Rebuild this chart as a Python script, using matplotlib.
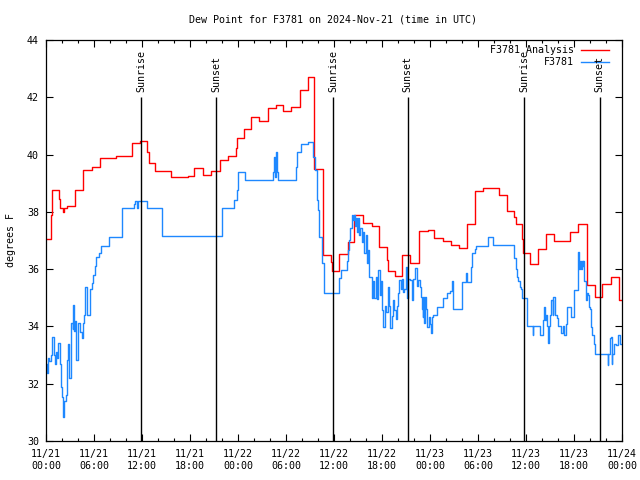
import numpy as np
import pandas as pd
import matplotlib
matplotlib.use("Agg")
import matplotlib.pyplot as plt
import matplotlib.dates as mdates

plt.rcParams["font.family"] = ["DejaVu Sans Mono"]
plt.rcParams["font.size"] = 7.2

START = pd.Timestamp("2024-11-21 00:00")
END = START + pd.Timedelta(hours=72)

# hours since 11/21 00:00 UTC, step values (deg F)
analysis_hours = [0.0, 0.66, 0.79, 1.58, 1.71, 2.12, 2.3, 2.58, 3.67, 4.66, 5.71, 6.71, 6.8,
                  8.71, 10.71, 11.75, 12.66, 12.83, 13.58, 13.66, 15.58, 17.7, 18.5, 19.6,
                  20.6, 21.8, 22.71, 23.71, 23.9, 24.7, 25.6, 26.6, 27.7, 28.7, 29.6, 30.6,
                  31.7, 32.8, 33.54, 34.6, 35.6, 35.7, 36.66, 37.7, 38.5, 39.66, 40.7, 41.66,
                  42.58, 42.7, 43.62, 44.54, 45.5, 46.6, 47.8, 48.5, 49.66, 50.6, 51.6, 52.6,
                  53.6, 54.6, 56.6, 57.6, 58.54, 58.71, 59.5, 59.66, 60.5, 61.5, 62.46, 63.54,
                  65.5, 66.5, 67.6, 68.6, 69.5, 70.6, 71.6, 72.0]
analysis_dewpt = [37.04, 37.89, 38.75, 38.45, 38.12, 38.0, 38.12, 38.2, 38.75, 39.45, 39.56,
                  39.73, 39.87, 39.95, 40.39, 40.48, 40.1, 39.71, 39.56, 39.42, 39.2, 39.25,
                  39.52, 39.28, 39.43, 39.8, 39.95, 40.22, 40.57, 40.91, 41.3, 41.16, 41.61,
                  41.73, 41.52, 41.65, 42.24, 42.71, 39.49, 36.5, 36.24, 35.93, 36.53, 36.96,
                  37.89, 37.6, 37.51, 36.79, 36.32, 35.95, 35.76, 36.49, 36.23, 37.32, 37.36,
                  37.08, 36.98, 36.84, 36.74, 37.56, 38.72, 38.82, 38.59, 38.02, 37.81, 37.58,
                  37.04, 36.55, 36.18, 36.69, 37.23, 36.97, 37.29, 37.57, 35.45, 35.02, 35.47,
                  35.74, 34.92, 34.92]

station_hours = [0.0, 0.09, 0.25, 0.41, 0.59, 0.71, 1.0, 1.12, 1.25, 1.41, 1.54, 1.75, 1.88,
                 2.04, 2.16, 2.29, 2.5, 2.59, 2.75, 2.84, 3.09, 3.16, 3.34, 3.41, 3.54, 3.66,
                 3.75, 4.04, 4.25, 4.46, 4.59, 4.75, 4.91, 5.09, 5.5, 5.75, 5.91, 6.09, 6.25,
                 6.59, 6.84, 7.9, 9.46, 11.04, 11.16, 11.41, 11.54, 12.59, 14.54, 21.96, 22.04,
                 23.54, 23.84, 24.04, 24.88, 28.34, 28.5, 28.62, 28.75, 28.88, 29.04, 31.21,
                 31.34, 31.88, 32.79, 33.41, 33.66, 33.91, 34.04, 34.16, 34.46, 34.75, 34.81,
                 36.66, 36.84, 37.66, 37.75, 37.88, 38.0, 38.21, 38.29, 38.41, 38.5, 38.62,
                 38.75, 38.88, 39.04, 39.16, 39.29, 39.46, 39.66, 39.79, 39.96, 40.12, 40.29,
                 40.41, 40.71, 40.91, 41.04, 41.21, 41.34, 41.46, 41.54, 41.71, 41.84, 41.96,
                 42.16, 42.37, 42.5, 42.71, 42.91, 43.0, 43.21, 43.41, 43.54, 43.71, 43.84,
                 44.04, 44.16, 44.37, 44.46, 44.66, 44.79, 45.0, 45.12, 45.29, 45.5, 45.71,
                 45.91, 46.12, 46.34, 46.54, 46.75, 46.88, 46.96, 47.09, 47.16, 47.29, 47.41,
                 47.54, 47.66, 47.84, 48.0, 48.12, 48.25, 48.41, 48.84, 49.59, 50.09, 50.5,
                 50.71, 50.84, 50.91, 51.96, 52.5, 52.66, 53.09, 53.21, 53.62, 53.75, 55.29,
                 55.84, 58.54, 58.71, 58.84, 59.04, 59.25, 59.38, 59.54, 60.09, 60.84, 60.88,
                 61.75, 62.16, 62.29, 62.38, 62.5, 62.66, 62.79, 62.88, 63.0, 63.12, 63.34,
                 63.41, 63.62, 63.84, 64.04, 64.38, 64.59, 64.79, 64.96, 65.09, 65.62, 66.04,
                 66.54, 66.62, 66.75, 66.88, 66.96, 67.09, 67.16, 67.29, 67.46, 67.54, 67.62,
                 67.79, 67.88, 68.0, 68.12, 68.29, 68.46, 68.62, 70.21, 70.29, 70.5, 70.62,
                 70.71, 70.79, 71.04, 71.21, 71.46, 71.54, 71.75, 72.0]
station_dewpt = [32.7, 32.36, 32.9, 32.8, 33.0, 33.64, 33.0, 32.7, 33.1, 32.9, 33.41, 32.7,
                 31.9, 31.55, 30.85, 31.4, 31.6, 32.83, 33.4, 32.19, 32.6, 34.11, 33.9, 34.75,
                 33.85, 34.2, 32.83, 34.11, 33.8, 33.6, 34.11, 34.4, 35.39, 34.4, 35.3, 35.5,
                 35.8, 36.1, 36.43, 36.55, 36.8, 37.13, 38.12, 38.27, 38.39, 38.12, 38.39,
                 38.12, 37.15, 37.66, 38.15, 38.41, 38.76, 39.39, 39.11, 39.4, 39.9, 39.2,
                 40.08, 39.4, 39.11, 39.58, 40.1, 40.37, 40.45, 39.9, 39.46, 38.41, 38.07,
                 37.13, 36.2, 35.62, 35.16, 35.68, 35.97, 36.3, 36.67, 37.0, 37.42, 37.72,
                 37.89, 37.72, 37.9, 37.5, 37.8, 37.31, 37.77, 37.2, 37.42, 36.96, 37.3, 36.55,
                 37.2, 36.22, 36.67, 35.74, 34.98, 35.6, 34.98, 35.74, 34.95, 35.6, 35.97,
                 35.1, 35.6, 34.57, 33.99, 34.7, 34.5, 35.39, 34.7, 33.94, 34.35, 34.92, 34.57,
                 34.25, 34.7, 35.16, 35.62, 35.3, 35.67, 35.2, 35.3, 36.09, 35.0, 35.67, 35.62,
                 34.92, 35.67, 36.03, 35.4, 35.62, 35.39, 35.04, 34.6, 34.34, 35.04, 34.11,
                 35.04, 34.6, 33.99, 34.34, 34.1, 33.76, 34.34, 34.4, 34.69, 34.98, 35.16,
                 35.25, 35.59, 35.1, 34.6, 35.56, 35.86, 35.56, 36.09, 36.55, 36.7, 36.82,
                 37.13, 36.84, 36.38, 36.0, 35.74, 35.6, 35.39, 35.3, 34.98, 34.02, 33.7, 34.02,
                 33.7, 34.22, 34.67, 34.22, 34.4, 34.02, 33.43, 34.02, 34.4, 34.92, 34.4, 35.04,
                 34.4, 34.3, 34.02, 33.76, 34.0, 33.7, 34.1, 34.69, 34.34, 35.27, 36.61, 36.0,
                 36.3, 36.0, 36.3, 36.1, 36.3, 35.6, 35.39, 34.92, 35.15, 35.1, 34.69, 34.6,
                 33.99, 33.7, 33.4, 33.04, 32.65, 33.04, 33.6, 33.64, 32.7, 33.04, 33.4, 33.35,
                 33.55, 33.7, 33.4, 33.4]

sun_hours = [11.9, 21.3, 35.9, 45.2, 59.8, 69.2]
sun_labels = ["Sunrise", "Sunset", "Sunrise", "Sunset", "Sunrise", "Sunset"]


def to_time(hours):
    return (START + pd.to_timedelta(np.asarray(hours), unit="h")).to_numpy()


fig = plt.figure(figsize=(6.4, 4.8), dpi=100)
ax = fig.add_axes([46 / 640, 39 / 480, 576 / 640, 401 / 480])

ax.step(to_time(analysis_hours), analysis_dewpt, where="post", color="#ff0000", lw=1.0)
ax.step(to_time(station_hours), station_dewpt, where="post", color="#1e88ff", lw=1.0)

for h, lab in zip(sun_hours, sun_labels):
    t = to_time([h])[0]
    ax.vlines(t, 30, 42, color="black", lw=1.0)
    ax.text(t, 42.2, lab, rotation=90, ha="center", va="bottom")

ax.set_xlim(START, END)
ax.set_ylim(30, 44)
ax.set_yticks(np.arange(30, 45, 2))
ax.xaxis.set_major_locator(mdates.HourLocator(byhour=[0, 6, 12, 18]))
ax.xaxis.set_minor_locator(mdates.HourLocator(interval=2))
ax.xaxis.set_major_formatter(mdates.DateFormatter("%m/%d\n%H:%M"))
ax.tick_params(which="both", direction="in", top=True, right=True, width=0.8)
ax.tick_params(which="major", length=5)
ax.tick_params(which="minor", length=2.5)
ax.tick_params(axis="x", pad=6)
ax.tick_params(axis="y", pad=5)
for sp in ax.spines.values():
    sp.set_linewidth(0.9)

fig.text(11 / 640, 0.5, "degrees F", rotation=90, ha="center", va="center")
fig.text(333 / 640, 1 - 19 / 480, "Dew Point for F3781 on 2024-Nov-21 (time in UTC)",
         ha="center", va="center")

# legend, text right-aligned with sample line after it
leg_rows = [("F3781 Analysis", "#ff0000", 0.975), ("F3781", "#1e88ff", 0.945)]
for lab, col, yy in leg_rows:
    ax.text(0.917, yy, lab, transform=ax.transAxes, ha="right", va="center")
    ax.plot([0.929, 0.977], [yy, yy], transform=ax.transAxes, color=col, lw=1.0)

fig.savefig("out.png", dpi=100)
